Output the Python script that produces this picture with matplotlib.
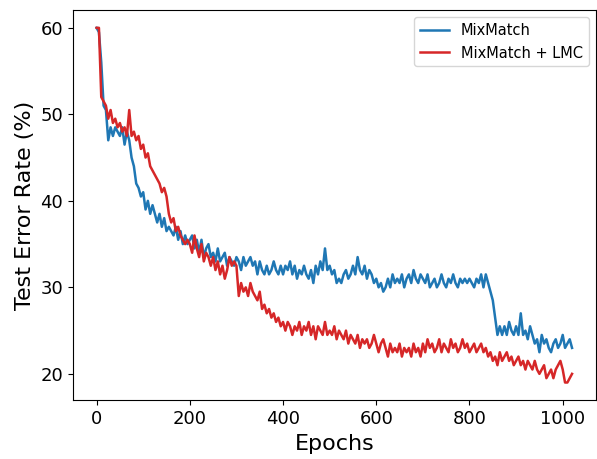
import numpy as np
import matplotlib
matplotlib.use('Agg')
import matplotlib.pyplot as plt

# epochs sampled every 5
epochs = np.arange(0, 1025, 5)

# test error rate (%)
mixmatch = [
    60.0, 59.5, 56.0, 51.0, 50.5, 47.0, 48.5, 47.5, 48.5, 48.0,
    47.5, 48.5, 46.5, 48.0, 47.0, 45.0, 44.0, 42.0, 41.5, 40.5,
    41.0, 39.0, 40.0, 38.5, 39.5, 38.5, 37.5, 38.5, 37.0, 38.0,
    36.5, 37.0, 36.5, 36.0, 37.0, 35.5, 36.5, 35.0, 36.0, 35.0,
    35.5, 36.0, 34.5, 35.5, 34.0, 35.5, 33.5, 34.5, 35.0, 33.5,
    34.0, 33.0, 34.5, 33.0, 33.5, 34.0, 32.5, 33.5, 33.0, 32.5,
    33.5, 33.0, 32.0, 33.5, 32.5, 33.0, 33.5, 32.5, 33.0, 31.5,
    33.0, 32.0, 31.5, 32.5, 31.5, 32.0, 33.0, 32.0, 31.5, 32.5,
    31.5, 32.5, 32.0, 33.0, 31.5, 32.5, 31.0, 32.0, 31.5, 32.5,
    31.5, 31.0, 32.0, 30.5, 32.5, 31.5, 33.0, 32.0, 34.5, 32.0,
    32.5, 31.5, 32.0, 30.5, 31.0, 30.5, 31.5, 32.0, 31.0, 31.5,
    32.5, 31.5, 33.5, 32.0, 31.5, 32.5, 31.0, 32.0, 31.5, 30.5,
    31.0, 30.0, 30.5, 29.5, 30.0, 31.0, 30.0, 31.5, 30.5, 31.0,
    30.5, 31.5, 30.0, 31.0, 31.5, 30.5, 32.0, 31.0, 30.5, 31.5,
    31.0, 30.5, 31.5, 30.0, 30.5, 31.0, 30.0, 30.5, 31.5, 30.5,
    30.0, 31.0, 30.5, 31.5, 30.5, 30.0, 31.0, 30.5, 31.0, 30.5,
    31.0, 30.5, 30.0, 31.0, 30.5, 31.5, 30.0, 31.5, 30.5, 29.5,
    28.5, 26.5, 24.5, 25.5, 24.5, 25.5, 24.5, 26.0, 25.0, 24.5,
    25.5, 24.5, 27.0, 24.5, 25.0, 24.0, 25.5, 24.5, 23.5, 24.0,
    22.5, 24.5, 23.5, 24.0, 23.0, 22.5, 23.5, 24.0, 23.0, 23.5,
    24.5, 23.0, 23.5, 24.0, 23.0,
]

mixmatch_lmc = [
    60.0, 60.0, 52.0, 51.5, 51.0, 49.5, 50.5, 49.0, 49.5, 48.5,
    49.0, 48.0, 48.5, 47.5, 50.5, 47.5, 48.0, 47.0, 47.5, 46.0,
    46.5, 45.0, 45.5, 44.0, 43.5, 43.0, 42.5, 42.0, 41.0, 41.5,
    40.5, 38.5, 37.5, 38.0, 36.5, 37.0, 36.0, 35.5, 35.0, 35.5,
    35.0, 34.0, 36.0, 34.5, 33.5, 35.0, 33.0, 34.0, 33.5, 32.5,
    33.5, 32.0, 33.0, 31.5, 32.5, 31.0, 32.0, 33.5, 32.5, 33.0,
    32.5, 29.0, 30.5, 29.5, 30.0, 29.0, 30.5, 29.5, 29.0, 28.5,
    29.5, 27.5, 28.0, 27.0, 27.5, 26.5, 27.0, 26.0, 26.5, 25.5,
    26.0, 25.0, 26.0, 25.5, 24.5, 25.5, 25.0, 26.0, 24.5, 25.5,
    25.0, 26.0, 24.5, 25.5, 24.0, 25.5, 25.0, 24.5, 26.0, 24.5,
    25.0, 24.5, 25.5, 24.0, 25.0, 24.5, 24.0, 25.0, 23.5, 24.5,
    24.0, 23.5, 24.5, 23.0, 24.0, 23.5, 24.0, 23.0, 23.5, 24.5,
    23.5, 22.5, 23.5, 24.0, 23.0, 22.0, 23.5, 22.5, 23.0, 22.5,
    23.5, 22.0, 23.0, 22.5, 23.0, 22.0, 23.5, 22.5, 23.0, 22.0,
    23.5, 22.5, 24.0, 23.0, 23.5, 22.5, 23.0, 24.0, 22.5, 23.5,
    23.0, 22.5, 24.0, 23.0, 23.5, 22.5, 23.0, 24.0, 23.0, 23.5,
    22.5, 23.0, 23.5, 22.5, 23.0, 23.5, 22.5, 23.0, 22.0, 22.5,
    21.5, 22.0, 21.0, 22.5, 21.5, 22.0, 22.5, 21.5, 22.0, 21.0,
    21.5, 22.0, 21.0, 21.5, 20.5, 21.5, 21.0, 20.5, 21.5, 20.5,
    20.0, 20.5, 21.0, 19.5, 20.0, 20.5, 19.5, 20.5, 21.0, 21.5,
    20.5, 19.0, 19.0, 19.5, 20.0,
]

fig = plt.figure(figsize=(5.97, 4.59), dpi=100)
ax = fig.add_axes([0.122, 0.128, 0.876, 0.85])
ax.plot(epochs, mixmatch, color='tab:blue', lw=1.8, label='MixMatch')
ax.plot(epochs, mixmatch_lmc, color='tab:red', lw=1.8, label='MixMatch + LMC')
ax.set_xlabel('Epochs', fontsize=16)
ax.set_ylabel('Test Error Rate (%)', fontsize=16)
ax.tick_params(labelsize=13)
ax.legend(loc='upper right', fontsize=10.5)
fig.savefig('out.png', dpi=100)
